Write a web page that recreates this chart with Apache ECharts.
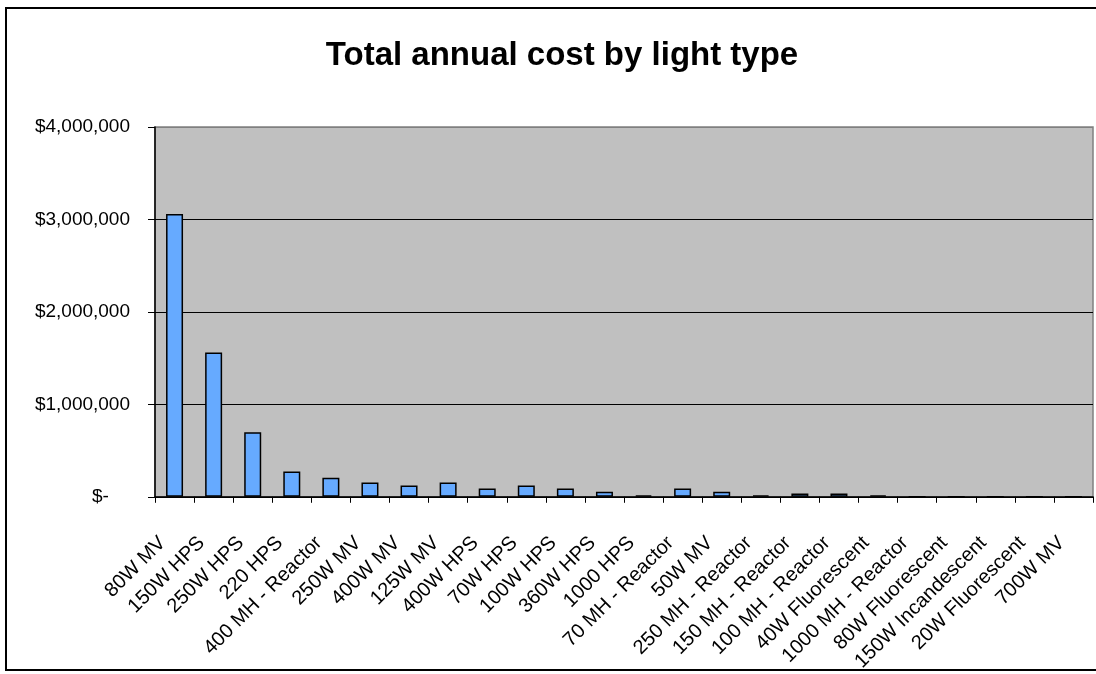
<!DOCTYPE html>
<html>
<head>
<meta charset="utf-8">
<script src="https://cdn.jsdelivr.net/npm/echarts@6/dist/echarts.min.js"></script>
<style>
  html, body { margin: 0; padding: 0; background: #fff; }
  #chart { width: 1096px; height: 674px; }
</style>
</head>
<body>
<div id="chart"></div>
<script>
// Light types, in the order they are listed
const lightTypes = [
  '80W MV', '150W HPS', '250W HPS', '220 HPS', '400 MH - Reactor', '250W MV',
  '400W MV', '125W MV', '400W HPS', '70W HPS', '100W HPS', '360W HPS',
  '1000 HPS', '70 MH - Reactor', '50W MV', '250 MH - Reactor', '150 MH - Reactor',
  '100 MH - Reactor', '40W Fluorescent', '1000 MH - Reactor', '80W Fluorescent',
  '150W Incandescent', '20W Fluorescent', '700W MV'
];

// Total annual cost per light type (USD)
const annualCost = [
  3060000, 1560000, 697000, 273000, 205000, 154000,
  122000, 154000, 90000, 122000, 90000, 54000,
  15000, 90000, 54000, 15000, 35000,
  35000, 15000, 0, 0,
  0, 0, 0
];

// Value-axis ticks
const costTicks = [0, 1000000, 2000000, 3000000, 4000000];

const FONT = 'Liberation Sans, Arial, sans-serif';

function dollars(v) {
  if (v === 0) return '$-    ';
  return '$' + v.toLocaleString('en-US');
}

const chart = echarts.init(document.getElementById('chart'), null, { renderer: 'canvas' });

chart.setOption({
  backgroundColor: '#ffffff',
  animation: false,
  title: {
    text: 'Total annual cost by light type',
    left: 557,
    top: 34,
    textAlign: 'center',
    textStyle: { fontFamily: FONT, fontSize: 33, fontWeight: 'bold', color: '#000' }
  },
  graphic: [{
    type: 'rect',
    shape: { x: 6, y: 8, width: 1200, height: 662 },
    style: { fill: 'none', stroke: '#000', lineWidth: 2 },
    silent: true,
    z: 100
  }],
  grid: {
    left: 155, right: 3, top: 127, bottom: 176,
    show: true,
    backgroundColor: '#c0c0c0',
    borderColor: '#808080',
    borderWidth: 1.5
  },
  xAxis: {
    type: 'category',
    data: lightTypes,
    axisLine: { lineStyle: { color: '#000', width: 1.5 } },
    axisTick: { show: true, length: 6, inside: false, lineStyle: { color: '#000' } },
    axisLabel: {
      interval: 0,
      rotate: 45,
      margin: 31,
      padding: [0, 17, 20, 0],
      fontFamily: FONT,
      fontSize: 20,
      color: '#000'
    },
    splitLine: { show: false }
  },
  yAxis: {
    type: 'value',
    min: costTicks[0],
    max: costTicks[costTicks.length - 1],
    interval: costTicks[1] - costTicks[0],
    axisLine: { show: true, lineStyle: { color: '#000', width: 1.5 } },
    axisTick: { show: true, length: 7, lineStyle: { color: '#000' } },
    axisLabel: {
      margin: 25,
      fontFamily: FONT,
      fontSize: 19,
      color: '#000',
      formatter: dollars
    },
    splitLine: {
      show: true,
      lineStyle: { color: ['#000', '#000', '#000', '#000', '#808080'], width: 1.2 }
    }
  },
  series: [{
    type: 'bar',
    data: annualCost,
    barWidth: 17,
    itemStyle: { color: '#66aaff', borderColor: '#000', borderWidth: 1.5 },
    emphasis: { disabled: true }
  }]
});
</script>
</body>
</html>
